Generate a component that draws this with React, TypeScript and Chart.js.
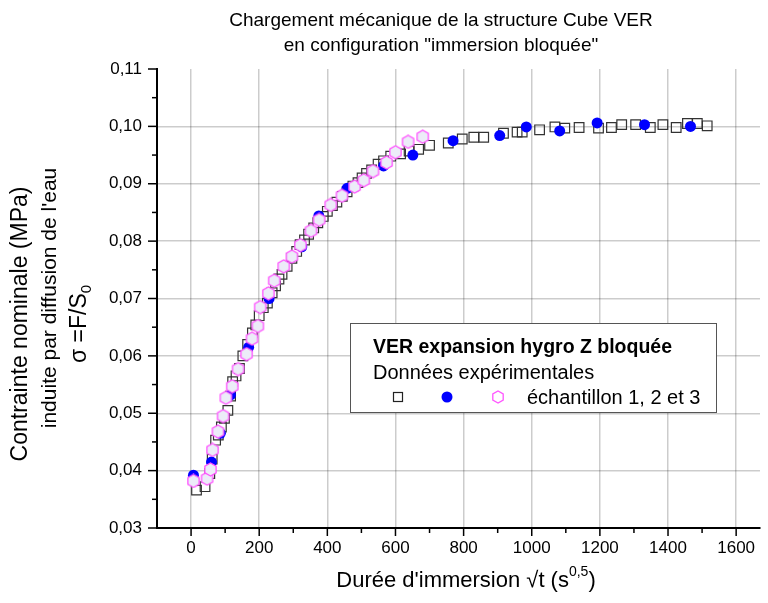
import React, { useEffect, useRef } from 'react';
import { Chart, registerables } from 'chart.js';
Chart.register(...registerables);

// ---- data ----
const SQ_X = [16, 41, 55, 62, 72, 80, 89, 98, 108, 116, 122, 132, 142, 152, 166, 180, 190, 200, 212, 224, 238, 248, 258, 267, 282, 296, 310, 320, 333, 345, 360, 372, 388, 400, 415, 428, 444, 458, 475, 490, 502, 515, 530, 549, 565, 586, 615, 640, 668, 700, 755, 796, 830, 859, 917, 957, 972, 1023, 1068, 1097, 1139, 1196, 1234, 1264, 1305, 1348, 1385, 1424, 1457, 1486, 1515];
const SQ_Y = [0.0366, 0.0372, 0.0395, 0.0420, 0.0453, 0.0462, 0.0476, 0.0491, 0.0505, 0.0530, 0.0555, 0.0565, 0.0578, 0.0600, 0.0620, 0.0640, 0.0654, 0.0670, 0.0684, 0.0692, 0.0710, 0.0722, 0.0734, 0.0742, 0.0756, 0.0770, 0.0782, 0.0794, 0.0802, 0.0812, 0.0823, 0.0832, 0.0843, 0.0852, 0.0862, 0.0868, 0.0878, 0.0886, 0.0896, 0.0902, 0.0910, 0.0918, 0.0924, 0.0934, 0.0940, 0.0948, 0.0952, 0.0957, 0.0960, 0.0967, 0.0971, 0.0978, 0.0981, 0.0981, 0.0988, 0.0990, 0.0990, 0.0994, 0.0999, 0.0997, 0.0998, 0.0997, 0.0998, 0.1003, 0.1003, 0.0998, 0.1003, 0.0998, 0.1005, 0.1005, 0.1001];
const CI_X = [7, 60, 86, 116, 169, 229, 325, 375, 458, 565, 651, 769, 906, 984, 1082, 1192, 1331, 1466];
const CI_Y = [0.0392, 0.0415, 0.0465, 0.0532, 0.0615, 0.0700, 0.0790, 0.0844, 0.0892, 0.0931, 0.0950, 0.0975, 0.0984, 0.0999, 0.0992, 0.1006, 0.1003, 0.1000];
const HX_X = [7, 47, 57, 63, 79, 94, 102, 121, 138, 163, 179, 196, 203, 227, 244, 272, 296, 321, 352, 376, 410, 443, 480, 507, 534, 574, 600, 637, 680];
const HX_Y = [0.0382, 0.0386, 0.0402, 0.0436, 0.0468, 0.0495, 0.0527, 0.0547, 0.0577, 0.0603, 0.0630, 0.0652, 0.0685, 0.0709, 0.0731, 0.0756, 0.0773, 0.0793, 0.0818, 0.0837, 0.0863, 0.0879, 0.0895, 0.0906, 0.0922, 0.0937, 0.0955, 0.0973, 0.0982];

const X_MAJOR = [0, 200, 400, 600, 800, 1000, 1200, 1400, 1600];
const X_MINOR = [100, 300, 500, 700, 900, 1100, 1300, 1500];
const Y_MAJOR = [0.03, 0.04, 0.05, 0.06, 0.07, 0.08, 0.09, 0.10, 0.11];
const Y_MINOR = [0.035, 0.045, 0.055, 0.065, 0.075, 0.085, 0.095, 0.105];
const X_MIN = -100;
const X_MAX = 1670;
const Y_MIN = 0.03;
const Y_MAX = 0.11;

const TITLE_1 = 'Chargement mécanique de la structure Cube VER';
const TITLE_2 = 'en configuration "immersion bloquée"';
const Y_TITLE_1 = 'Contrainte nominale (MPa)';
const Y_TITLE_2 = "induite par diffusion de l'eau";
const Y_TITLE_3 = 'σ =F/S';
const Y_TITLE_3_SUB = '0';
const X_TITLE = "Durée d'immersion √t (s";
const X_TITLE_SUP = '0,5';
const LEG_1 = 'VER expansion hygro Z bloquée';
const LEG_2 = 'Données expérimentales';
const LEG_3 = 'échantillon 1, 2 et 3';

const FONT = '"Liberation Sans", Arial, sans-serif';
const HEX_STROKE = '#ff55ff';
const HEX_FILL = '#ececf8';

function makeHex(size: number): HTMLCanvasElement {
  const c = document.createElement('canvas');
  c.width = size;
  c.height = size;
  const ctx = c.getContext('2d')!;
  const r = size / 2 - 1;
  ctx.beginPath();
  for (let i = 0; i < 6; i++) {
    const a = Math.PI / 2 + (i * Math.PI) / 3;
    const px = size / 2 + r * Math.cos(a);
    const py = size / 2 + r * Math.sin(a);
    if (i === 0) ctx.moveTo(px, py);
    else ctx.lineTo(px, py);
  }
  ctx.closePath();
  ctx.fillStyle = HEX_FILL;
  ctx.fill();
  ctx.strokeStyle = HEX_STROKE;
  ctx.lineWidth = 1.3;
  ctx.stroke();
  return c;
}

const decorPlugin = {
  id: 'decor',
  afterDraw(chart: any) {
    const ctx = chart.ctx as CanvasRenderingContext2D;
    const xs = chart.scales.x;
    const ys = chart.scales.y;
    const area = chart.chartArea;
    ctx.save();
    // tick marks
    ctx.strokeStyle = '#000';
    ctx.lineWidth = 1.5;
    X_MAJOR.forEach((v) => {
      const p = xs.getPixelForValue(v);
      ctx.beginPath(); ctx.moveTo(p, area.bottom); ctx.lineTo(p, area.bottom + 8); ctx.stroke();
    });
    X_MINOR.forEach((v) => {
      const p = xs.getPixelForValue(v);
      ctx.beginPath(); ctx.moveTo(p, area.bottom); ctx.lineTo(p, area.bottom + 5); ctx.stroke();
    });
    Y_MAJOR.forEach((v) => {
      const p = ys.getPixelForValue(v);
      ctx.beginPath(); ctx.moveTo(area.left, p); ctx.lineTo(area.left - 9, p); ctx.stroke();
    });
    Y_MINOR.forEach((v) => {
      const p = ys.getPixelForValue(v);
      ctx.beginPath(); ctx.moveTo(area.left, p); ctx.lineTo(area.left - 5, p); ctx.stroke();
    });

    ctx.fillStyle = '#000';
    ctx.textBaseline = 'middle';
    // title
    ctx.font = `19px ${FONT}`;
    ctx.textAlign = 'center';
    ctx.fillText(TITLE_1, 441, 21);
    ctx.fillText(TITLE_2, 441, 46);

    // y title
    ctx.save();
    ctx.translate(21, 324);
    ctx.rotate(-Math.PI / 2);
    ctx.font = `23px ${FONT}`;
    ctx.fillText(Y_TITLE_1, 0, 0);
    ctx.restore();
    ctx.save();
    ctx.translate(50, 298);
    ctx.rotate(-Math.PI / 2);
    ctx.font = `21px ${FONT}`;
    ctx.fillText(Y_TITLE_2, 0, 0);
    ctx.restore();
    ctx.save();
    ctx.translate(80, 324);
    ctx.rotate(-Math.PI / 2);
    ctx.font = `23px ${FONT}`;
    const w3 = ctx.measureText(Y_TITLE_3).width;
    ctx.font = `15px ${FONT}`;
    const w3s = ctx.measureText(Y_TITLE_3_SUB).width;
    const tot3 = w3 + w3s;
    ctx.textAlign = 'left';
    ctx.font = `23px ${FONT}`;
    ctx.fillText(Y_TITLE_3, -tot3 / 2, 0);
    ctx.font = `15px ${FONT}`;
    ctx.fillText(Y_TITLE_3_SUB, -tot3 / 2 + w3, 7);
    ctx.restore();

    // x title
    ctx.textAlign = 'left';
    ctx.textBaseline = 'alphabetic';
    ctx.font = `22px ${FONT}`;
    const wx = ctx.measureText(X_TITLE).width;
    const wp = ctx.measureText(')').width;
    ctx.font = `14px ${FONT}`;
    const wsup = ctx.measureText(X_TITLE_SUP).width;
    const totx = wx + wsup + wp;
    const x0 = 466 - totx / 2;
    const by = 587;
    ctx.font = `22px ${FONT}`;
    ctx.fillText(X_TITLE, x0, by);
    ctx.font = `14px ${FONT}`;
    ctx.fillText(X_TITLE_SUP, x0 + wx, by - 11);
    ctx.font = `22px ${FONT}`;
    ctx.fillText(')', x0 + wx + wsup, by);

    // legend
    ctx.fillStyle = '#fff';
    ctx.fillRect(350.5, 323.5, 366, 89);
    ctx.strokeStyle = '#555';
    ctx.lineWidth = 1;
    ctx.strokeRect(350.5, 323.5, 366, 89);
    ctx.fillStyle = '#000';
    ctx.textBaseline = 'middle';
    ctx.textAlign = 'left';
    ctx.font = `bold 19.5px ${FONT}`;
    ctx.fillText(LEG_1, 373, 348);
    ctx.font = `20px ${FONT}`;
    ctx.fillText(LEG_2, 373, 373);
    ctx.fillText(LEG_3, 527, 398);
    // markers
    ctx.strokeStyle = '#222';
    ctx.lineWidth = 1.2;
    ctx.strokeRect(393.5, 392.5, 9, 9);
    ctx.fillStyle = '#0000ff';
    ctx.beginPath(); ctx.arc(447, 397, 5.5, 0, Math.PI * 2); ctx.fill();
    const hx = 498, hy = 397, hr = 6;
    ctx.beginPath();
    for (let i = 0; i < 6; i++) {
      const a = Math.PI / 2 + (i * Math.PI) / 3;
      const px = hx + hr * Math.cos(a);
      const py = hy + hr * Math.sin(a);
      if (i === 0) ctx.moveTo(px, py); else ctx.lineTo(px, py);
    }
    ctx.closePath();
    ctx.strokeStyle = HEX_STROKE;
    ctx.lineWidth = 1.3;
    ctx.stroke();
    ctx.restore();
  },
};

export default function App() {
  const ref = useRef<HTMLCanvasElement | null>(null);
  useEffect(() => {
    document.body.style.margin = '0';
    const hex = makeHex(15);
    const chart = new Chart(ref.current!, {
      type: 'scatter',
      data: {
        datasets: [
          {
            label: 'échantillon 3',
            data: HX_X.map((x, i) => ({ x, y: HX_Y[i] })),
            pointStyle: hex as any,
            pointRadius: 7,
            order: 1,
          },
          {
            label: 'échantillon 2',
            data: CI_X.map((x, i) => ({ x, y: CI_Y[i] })),
            pointStyle: 'circle',
            pointRadius: 5.5,
            backgroundColor: '#0000ff',
            borderColor: '#0000ff',
            borderWidth: 0,
            order: 2,
          },
          {
            label: 'échantillon 1',
            data: SQ_X.map((x, i) => ({ x, y: SQ_Y[i] })),
            pointStyle: 'rect',
            pointRadius: 6.8,
            backgroundColor: 'rgba(0,0,0,0)',
            borderColor: '#333',
            borderWidth: 1.2,
            order: 3,
          },
        ],
      },
      options: {
        responsive: false,
        animation: false,
        layout: { padding: { left: 0, right: 0, top: 69, bottom: 0 } },
        plugins: {
          legend: { display: false },
          title: { display: false },
          tooltip: { enabled: false },
        },
        scales: {
          x: {
            type: 'linear',
            min: X_MIN,
            max: X_MAX,
            afterBuildTicks: (s: any) => { s.ticks = X_MAJOR.map((v) => ({ value: v })); },
            afterFit: (s: any) => { s.height = 75; },
            grid: { color: 'rgba(0,0,0,0.2)', lineWidth: 1.5, drawTicks: false },
            border: { display: true, color: '#000', width: 2 },
            ticks: {
              color: '#000',
              font: { family: FONT, size: 17 },
              padding: 10,
              maxRotation: 0,
              autoSkip: false,
              callback: (v: any) => String(v),
            },
          },
          y: {
            type: 'linear',
            min: Y_MIN,
            max: Y_MAX,
            afterBuildTicks: (s: any) => { s.ticks = Y_MAJOR.map((v) => ({ value: v })); },
            afterFit: (s: any) => { s.width = 157; },
            grid: {
              color: (c: any) => (c.tick && c.tick.value > 0.105 ? 'rgba(0,0,0,0)' : 'rgba(0,0,0,0.2)'),
              lineWidth: 1.5,
              drawTicks: false,
            },
            border: { display: true, color: '#000', width: 2 },
            ticks: {
              color: '#000',
              font: { family: FONT, size: 17 },
              padding: 15,
              autoSkip: false,
              callback: (v: any) => Number(v).toFixed(2).replace('.', ','),
            },
          },
        },
      },
      plugins: [decorPlugin],
    });
    return () => chart.destroy();
  }, []);
  return (
    <div style={{ position: 'absolute', left: 0, top: 0, width: 768, height: 603 }}>
      <canvas ref={ref} width={768} height={603} style={{ display: 'block', width: 768, height: 603 }} />
    </div>
  );
}
